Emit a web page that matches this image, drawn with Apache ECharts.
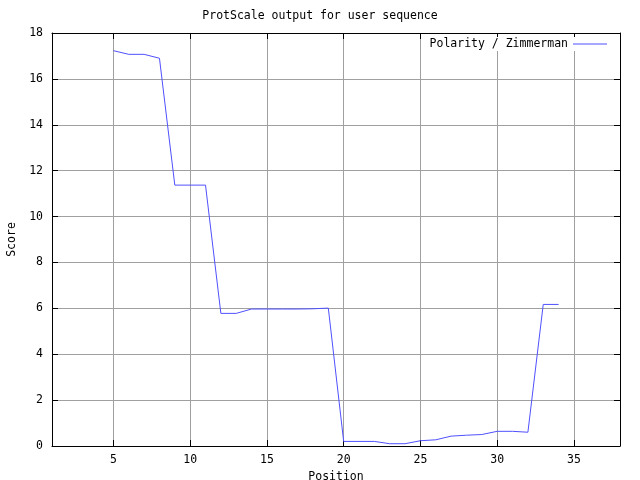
<!DOCTYPE html>
<html>
<head>
<meta charset="utf-8">
<script src="https://cdn.jsdelivr.net/npm/echarts@6/dist/echarts.min.js"></script>
<style>
html, body { margin: 0; padding: 0; background: #fff; }
#chart { width: 640px; height: 480px; }
</style>
</head>
<body>
<div id="chart"></div>
<script>
// position along the sequence and its score
var positions = [5, 6, 7, 8, 9, 10, 11, 12, 13, 14, 15, 16, 17, 18, 19, 20, 21, 22, 23, 24, 25, 26, 27, 28, 29, 30, 31, 32, 33, 34];
var scores = [17.23, 17.07, 17.07, 16.9, 11.37, 11.37, 11.37, 5.78, 5.78, 5.97, 5.97, 5.97, 5.97, 5.98, 6.01, 0.2, 0.2, 0.2, 0.1, 0.1, 0.23, 0.27, 0.43, 0.47, 0.5, 0.64, 0.64, 0.6, 6.17, 6.17];
var xTicks = [5, 10, 15, 20, 25, 30, 35];

var font = 'DejaVu Sans Mono';
var fs = 11.5;
var points = [];
for (var i in positions) {
	points.push([positions[i], scores[i]]);
}

var chart = echarts.init(document.getElementById('chart'));

var gridLine = { show: true, lineStyle: { color: '#a0a0a0', width: 1 } };
var blackLine = { show: true, onZero: false, lineStyle: { color: '#000', width: 1 } };

var option = {
	backgroundColor: '#fff',
	animation: false,
	title: {
		text: 'ProtScale output for user sequence',
		left: 'center',
		top: 5,
		textStyle: { fontFamily: font, fontSize: fs, fontWeight: 'normal', color: '#000' }
	},
	legend: {
		right: 29,
		top: 37,
		align: 'right',
		icon: 'rect',
		itemWidth: 34,
		itemHeight: 1,
		itemGap: 8,
		padding: [1, 4, 1, 8],
		backgroundColor: '#fff',
		data: ['Polarity / Zimmerman'],
		textStyle: { fontFamily: font, fontSize: fs, color: '#000' }
	},
	grid: { left: 52, right: 20, top: 33, bottom: 34, outerBoundsMode: 'none' },
	xAxis: [{
		type: 'value',
		min: 1,
		max: 38,
		name: 'Position',
		nameLocation: 'middle',
		nameGap: 10,
		nameTextStyle: { fontFamily: font, fontSize: fs, color: '#000' },
		axisLine: blackLine,
		axisTick: { show: true, inside: true, length: 6, customValues: xTicks, lineStyle: { color: '#000' } },
		axisLabel: { customValues: xTicks, margin: 8, fontFamily: font, fontSize: fs, color: '#000' },
		splitLine: gridLine
	}, {
		type: 'value',
		position: 'top',
		min: 1,
		max: 38,
		axisLine: blackLine,
		axisTick: { show: true, inside: true, length: 6, customValues: xTicks, lineStyle: { color: '#000' } },
		axisLabel: { show: false, customValues: xTicks },
		splitLine: { show: false }
	}],
	yAxis: [{
		type: 'value',
		min: 0,
		max: 18,
		interval: 2,
		name: 'Score',
		nameLocation: 'middle',
		nameRotate: 90,
		nameGap: 33,
		nameTextStyle: { fontFamily: font, fontSize: fs, color: '#000' },
		axisLine: blackLine,
		axisTick: { show: true, inside: true, length: 6, lineStyle: { color: '#000' } },
		axisLabel: { margin: 9, fontFamily: font, fontSize: fs, color: '#000' },
		splitLine: gridLine
	}, {
		type: 'value',
		position: 'right',
		min: 0,
		max: 18,
		interval: 2,
		axisLine: blackLine,
		axisTick: { show: true, inside: true, length: 6, lineStyle: { color: '#000' } },
		axisLabel: { show: false },
		splitLine: { show: false }
	}],
	series: [{
		name: 'Polarity / Zimmerman',
		type: 'line',
		symbol: 'none',
		lineStyle: { color: '#5050ff', width: 1 },
		itemStyle: { color: '#5050ff' },
		data: points
	}]
};

chart.setOption(option);
</script>
</body>
</html>
